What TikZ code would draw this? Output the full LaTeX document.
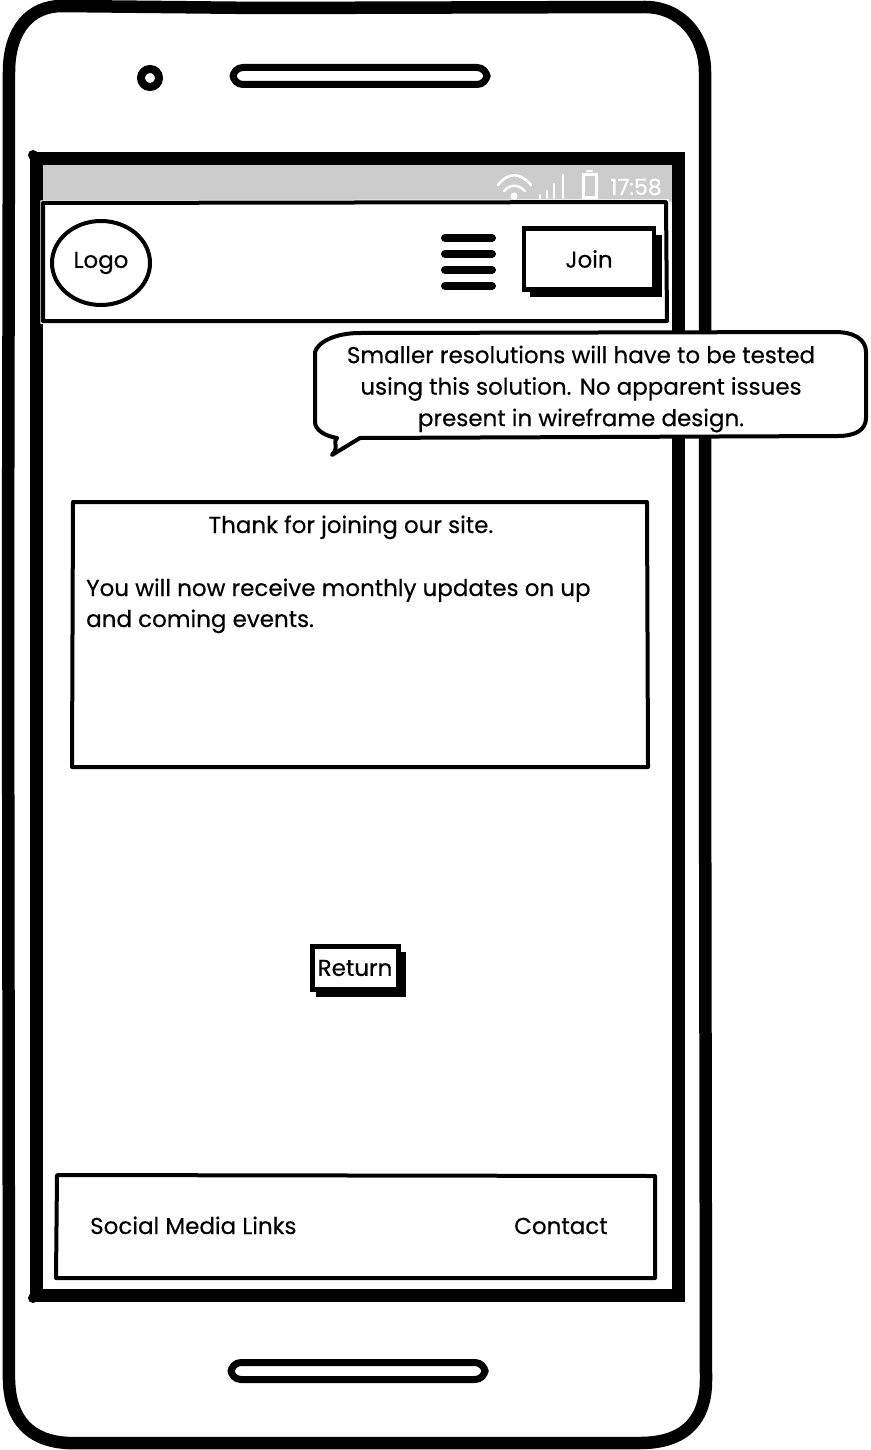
\documentclass[tikz,border=0pt]{standalone}
\usepackage{fontspec}
\setmainfont[FakeBold=0.35]{Poppins}
\usetikzlibrary{positioning,shapes.geometric}
\definecolor{Ink}{HTML}{000000}
\definecolor{StatusBar}{HTML}{CCCCCC}

\begin{document}
\begin{tikzpicture}[
  x=1pt,y=-1pt,
  shell/.style={draw=Ink,line width=12.5pt,line join=round,line cap=round},
  frameline/.style={draw=Ink,line width=13pt,line cap=rect},
  panel/.style={draw=Ink,line width=4pt,fill=white,line join=round},
  halo/.style={preaction={draw=white,line width=5.5pt}},
  pill/.style={draw=Ink,line width=7pt,fill=white,rounded corners=10pt,minimum width=254pt,minimum height=17pt,inner sep=0pt},
  bar/.style={draw=Ink,line width=8pt,line cap=round},
  shadowbox/.style={fill=Ink,draw=Ink,line width=1pt},
  btn/.style={draw=Ink,line width=4.5pt,fill=white,inner sep=0pt,font=\fontsize{23}{27}\selectfont},
  label/.style={font=\fontsize{23}{31.5}\selectfont,text=Ink,inner sep=0pt},
  icon/.style={draw=white,line width=2.5pt,line cap=round}
]
\useasboundingbox (0,0) rectangle (870,1450);
% phone body
\draw[shell,fill=white] (62,6) .. controls (30,6) and (9,30) .. (9,72) -- (8,600) -- (9,1380)
  .. controls (10,1420) and (30,1441) .. (68,1443) -- (640,1443)
  .. controls (685,1443) and (706,1420) .. (706,1380) -- (705,700) -- (705,72)
  .. controls (705,35) and (680,7) .. (645,7) -- (260,8) -- cycle;
\node[circle,draw=Ink,line width=8pt,fill=white,minimum size=18pt,inner sep=0pt] (camera) at (150,78) {};
\node[pill] (speaker) at (360,76) {};
\node[pill] (homekey) at (358,1371) {};
% screen
\fill[StatusBar] (38,164) rectangle (674,202);
\coordinate (screenTL) at (36,159);
\coordinate (screenTR) at (678,159);
\coordinate (screenBL) at (36,1295);
\coordinate (screenBR) at (678,1295);
\draw[frameline] (screenTL) -- (screenTR);
\draw[frameline] (screenTL) -- (screenBL);
\draw[frameline] (screenTR) -- (screenBR);
\draw[frameline] (screenBL) -- (screenBR);
\fill[Ink] (33,155) circle (5pt);
\fill[Ink] (33,1298) circle (5pt);
% status icons
\draw[icon] (498,185) .. controls (508,172) and (520,172) .. (531,185);
\draw[icon] (504,191) .. controls (510,184) and (518,184) .. (525,191);
\fill[white] (514,196) circle (3.5pt);
\foreach \x/\y in {540/195,547/191,554/184,563/175} {
  \draw[icon,line width=2pt] (\x,198) -- (\x,\y);
}
\draw[icon,line width=3pt,fill=StatusBar] (583,198) -- (583,175) -- (596,175) -- (596,198) -- cycle;
\draw[icon] (587,171) -- (592,171);
\node[label,text=white,font=\fontsize{22}{24}\selectfont] (clock) at (636,187) {17:58};
% header
\draw[panel,halo] (43,203) -- (666,202) -- (667,321) -- (43,321) -- cycle;
\node[ellipse,draw=Ink,line width=4pt,minimum width=98pt,minimum height=84pt,inner sep=0pt,label] (logo) at (101,263) {Logo};
\foreach \y in {238,254,270,286} {
  \draw[bar] (445,\y) -- (492,\y);
}
\fill[shadowbox] (530,235) rectangle (661,296);
\node[btn,minimum width=130pt,minimum height=61pt] (join) at (589,259) {Join};
% message
\draw[panel] (73,502) -- (647,502) -- (648,767) -- (72,767) -- cycle;
\node[label,anchor=base] (thanks) at (351,533) {Thank for joining our site.};
\node[label,anchor=base west] (updates1) at (86,596) {You will now receive monthly updates on up};
\node[label,anchor=base west] (updates2) at (86,627) {and coming events.};
% return button
\fill[shadowbox] (316,952) rectangle (405,996);
\node[btn,line width=5pt,minimum width=86pt,minimum height=43pt] (return) at (355,968) {Return};
% footer
\draw[panel] (57,1175) -- (655,1176) -- (655,1278) -- (56,1278) -- cycle;
\node[label,anchor=base west] (social) at (90,1234) {Social Media Links};
\node[label,anchor=base west] (contact) at (514,1234) {Contact};
% callout
\draw[panel] (360,333) -- (835,332) .. controls (855,332) and (866,340) .. (866,352)
  -- (866,418) .. controls (866,430) and (855,436) .. (838,436) -- (360,438)
  -- (332,455) .. controls (340,446) and (332,444) .. (337,438)
  .. controls (325,436) and (315,430) .. (315,422) -- (315,352)
  .. controls (318,342) and (335,333) .. (360,333) -- cycle;
\node[label,align=center] (note) at (581,389) {Smaller resolutions will have to be tested\\using this solution. No apparent issues\\present in wireframe design.};
\end{tikzpicture}
\end{document}
